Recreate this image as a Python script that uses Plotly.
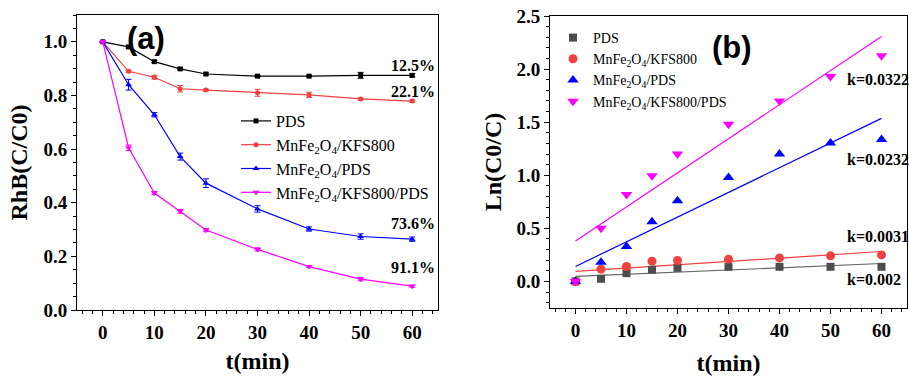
import plotly.graph_objects as go

W, H = 909, 376

# ---------------- data ----------------
t = [0, 5, 10, 15, 20, 30, 40, 50, 60]
names = ["PDS",
         "MnFe<sub>2</sub>O<sub>4</sub>/KFS800",
         "MnFe<sub>2</sub>O<sub>4</sub>/PDS",
         "MnFe<sub>2</sub>O<sub>4</sub>/KFS800/PDS"]

# panel (a): C/C0
c_pds = [1.0, 0.981, 0.926, 0.899, 0.880, 0.872, 0.872, 0.875, 0.875]
c_kfs = [1.0, 0.890, 0.868, 0.825, 0.820, 0.810, 0.802, 0.787, 0.779]
c_mnpds = [1.0, 0.840, 0.728, 0.572, 0.473, 0.377, 0.302, 0.274, 0.264]
c_all = [1.0, 0.605, 0.436, 0.368, 0.298, 0.226, 0.162, 0.115, 0.089]
e_pds = [0, 0.004, 0.004, 0.004, 0.004, 0.003, 0.003, 0.011, 0.006]
e_kfs = [0, 0.004, 0.007, 0.012, 0.004, 0.013, 0.010, 0.004, 0.004]
e_mnpds = [0, 0.020, 0.008, 0.013, 0.016, 0.012, 0.008, 0.010, 0.008]
e_all = [0, 0.010, 0.006, 0.007, 0.006, 0.006, 0.004, 0.006, 0.004]
removal_labels = ["12.5%", "22.1%", "73.6%", "91.1%"]

# panel (b): ln(C0/C)
ln_pds = [0, 0.025, 0.078, 0.110, 0.128, 0.138, 0.138, 0.138, 0.138]
ln_kfs = [0, 0.116, 0.141, 0.191, 0.197, 0.210, 0.222, 0.241, 0.250]
ln_mnpds = [0, 0.180, 0.330, 0.563, 0.760, 0.980, 1.200, 1.305, 1.336]
ln_all = [0, 0.500, 0.820, 0.995, 1.200, 1.480, 1.700, 1.930, 2.125]
fit_t = [0, 60]
fit_pds = [0.047, 0.169]
fit_kfs = [0.094, 0.282]
fit_mnpds = [0.141, 1.536]
fit_all = [0.382, 2.306]
k_labels = ["k=0.0322", "k=0.0232", "k=0.0031", "k=0.002"]

# ---------------- styles ----------------
col_a = ["#000000", "#f04040", "#0000ff", "#ff00ff"]
col_b = ["#4d4d4d", "#f04040", "#0000ff", "#ff00ff"]
fit_col = ["#666666", "#f04040", "#0000ff", "#ff00ff"]
syms = ["square", "circle", "triangle-up", "triangle-down"]
SERIF = "Liberation Serif"


def px(x):
    return x / W


def py(y):
    return 1 - y / H


fig = go.Figure()

series_a = [c_pds, c_kfs, c_mnpds, c_all]
errs_a = [e_pds, e_kfs, e_mnpds, e_all]
sizes_a = [5, 5, 6, 6]
for i in range(4):
    fig.add_trace(go.Scatter(
        x=t, y=series_a[i], name=names[i], mode="lines+markers",
        line=dict(color=col_a[i], width=1.2),
        marker=dict(symbol=syms[i], size=sizes_a[i], color=col_a[i]),
        error_y=dict(type="data", array=errs_a[i], color=col_a[i],
                     thickness=1, width=3),
        xaxis="x", yaxis="y", legend="legend"))

fits = [fit_pds, fit_kfs, fit_mnpds, fit_all]
for i in range(4):
    fig.add_trace(go.Scatter(
        x=fit_t, y=fits[i], mode="lines", showlegend=False,
        line=dict(color=fit_col[i], width=1.2),
        xaxis="x2", yaxis="y2"))

series_b = [ln_pds, ln_kfs, ln_mnpds, ln_all]
sizes_b = [8, 9, 10, 10]
for i in range(4):
    fig.add_trace(go.Scatter(
        x=t, y=series_b[i], name=names[i], mode="markers",
        marker=dict(symbol=syms[i], size=sizes_b[i], color=col_b[i]),
        xaxis="x2", yaxis="y2", legend="legend2"))

tickfont = dict(family=SERIF, size=19, color="black", weight="bold")
titlefont = dict(family=SERIF, size=24, color="black", weight="bold")
common = dict(showline=True, mirror=True, linecolor="black", linewidth=1,
              ticks="outside", ticklen=5, tickcolor="black", showgrid=False,
              zeroline=False, tickfont=tickfont, automargin=False,
              minor=dict(ticks="outside", ticklen=3, tickcolor="black", showgrid=False))

fig.update_layout(
    width=W, height=H, margin=dict(l=0, r=0, t=0, b=0, autoexpand=False),
    paper_bgcolor="white", plot_bgcolor="white",
    xaxis=dict(domain=[px(77), px(438)], range=[-5, 65], tick0=0, dtick=10,
               title=dict(text="t(min)", font=titlefont, standoff=10),
               anchor="y", **common),
    yaxis=dict(domain=[py(310), py(15)], range=[0, 1.1], tick0=0, dtick=0.2,
               tickformat=".1f",
               title=dict(text="RhB(C/C0)", font=titlefont, standoff=9),
               anchor="x", **common),
    xaxis2=dict(domain=[px(550), px(907)], range=[-5, 65], tick0=0, dtick=10,
                title=dict(text="t(min)", font=titlefont, standoff=16),
                anchor="y2", **common),
    yaxis2=dict(domain=[py(308), py(16)], range=[-0.25, 2.5], tick0=0, dtick=0.5,
                tickformat=".1f",
                title=dict(text="Ln(C0/C)", font=titlefont, standoff=8),
                anchor="x2", **common),
    legend=dict(x=px(236), y=py(104), xanchor="left", yanchor="top",
                bgcolor="rgba(0,0,0,0)", font=dict(family=SERIF, size=16, color="black"),
                tracegroupgap=0),
    legend2=dict(x=px(553), y=py(22), xanchor="left", yanchor="top",
                 bgcolor="rgba(0,0,0,0)", font=dict(family=SERIF, size=14, color="black"),
                 tracegroupgap=0),
)

# panel labels
panel_font = dict(family="Liberation Sans", size=31, color="black", weight="bold")
fig.add_annotation(text="(a)", x=px(146), y=py(38), xref="paper", yref="paper",
                   xanchor="center", yanchor="middle", showarrow=False, font=panel_font)
fig.add_annotation(text="(b)", x=px(732), y=py(47), xref="paper", yref="paper",
                   xanchor="center", yanchor="middle", showarrow=False, font=panel_font)

lab_font = dict(family=SERIF, size=16, color="black", weight="bold")
for txt, yy in zip(removal_labels, [66, 91, 223, 267]):
    fig.add_annotation(text=txt, x=px(413), y=py(yy), xref="paper", yref="paper",
                       xanchor="center", yanchor="middle", showarrow=False, font=lab_font)
for txt, yy in zip(k_labels, [79, 159, 236, 279]):
    fig.add_annotation(text=txt, x=px(845), y=py(yy), xref="paper", yref="paper",
                       xanchor="left", yanchor="middle", showarrow=False, font=lab_font)

fig.write_html("out.html")
